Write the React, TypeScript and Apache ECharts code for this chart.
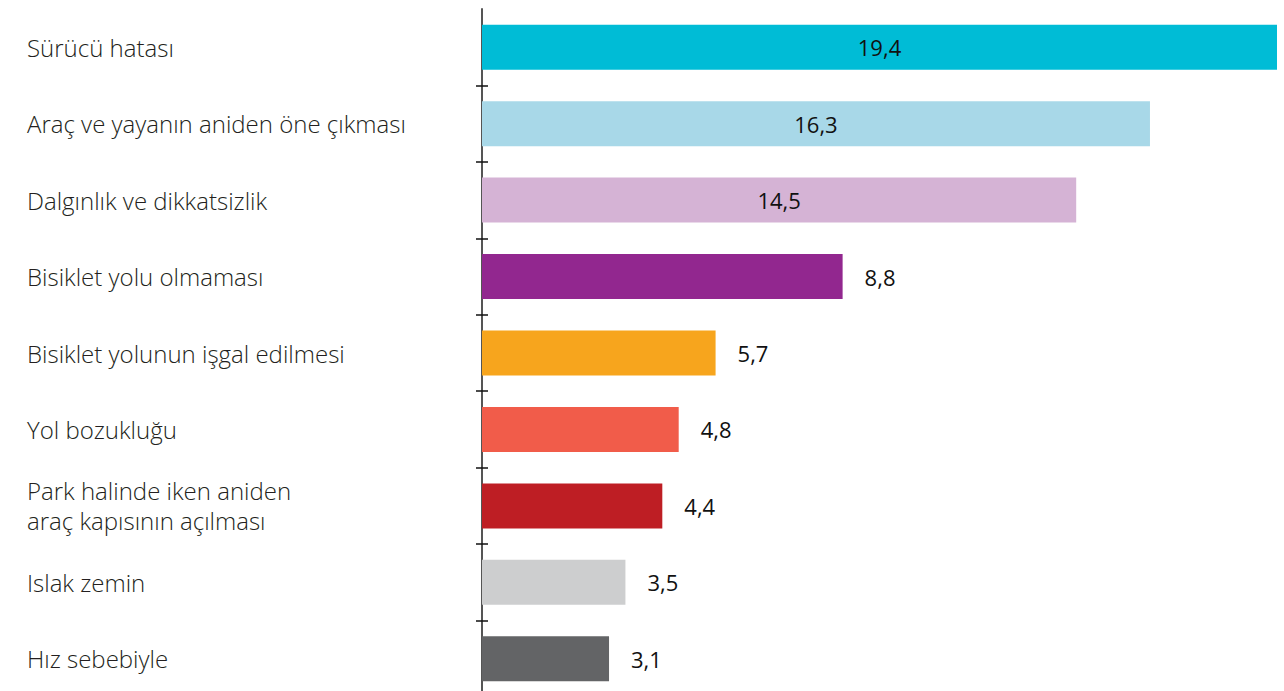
import React, { useEffect, useRef } from "react";
import * as echarts from "echarts";

const categories = [
  "Sürücü hatası",
  "Araç ve yayanın aniden öne çıkması",
  "Dalgınlık ve dikkatsizlik",
  "Bisiklet yolu olmaması",
  "Bisiklet yolunun işgal edilmesi",
  "Yol bozukluğu",
  "Park halinde iken aniden\naraç kapısının açılması",
  "Islak zemin",
  "Hız sebebiyle",
];
const values = [19.4, 16.3, 14.5, 8.8, 5.7, 4.8, 4.4, 3.5, 3.1];
const colors = [
  "#00bcd6",
  "#a8d8e8",
  "#d5b3d5",
  "#92278f",
  "#f7a51d",
  "#f15c4a",
  "#be1e24",
  "#cdcecf",
  "#636466",
];
const insideCount = 3;

export default function App() {
  const ref = useRef<HTMLDivElement>(null);
  useEffect(() => {
    document.body.style.margin = "0";
    document.body.style.overflow = "hidden";
    const chart = echarts.init(ref.current!, null, { renderer: "svg" });
    const font = "'Open Sans', 'Noto Sans', sans-serif";
    chart.setOption({
      animation: false,
      grid: { left: 482, right: 7, top: 9, height: 688, containLabel: false },
      xAxis: { type: "value", min: 0, max: 19.4, show: false },
      yAxis: [
        {
          type: "category",
          data: categories,
          inverse: true,
          axisLine: { show: true, lineStyle: { color: "#555", width: 2 } },
          axisTick: {
            show: true,
            length: 6,
            interval: (i: number) => i !== 0,
            lineStyle: { color: "#111", width: 1.5 },
          },
          axisLabel: {
            align: "left",
            margin: 455,
            fontSize: 24,
            fontWeight: 300,
            fontFamily: font,
            color: "#231f20",
            lineHeight: 30,
          },
        },
        {
          type: "category",
          data: categories,
          inverse: true,
          position: "left",
          axisLine: { show: false },
          axisTick: {
            show: true,
            inside: true,
            length: 6,
            interval: (i: number) => i !== 0,
            lineStyle: { color: "#111", width: 1.5 },
          },
          axisLabel: { show: false },
        },
      ],
      series: [
        {
          type: "bar",
          barWidth: 45,
          data: values.map((v, i) => ({
            value: v,
            itemStyle: { color: colors[i] },
            label: {
              show: true,
              position: i < insideCount ? "inside" : "right",
              distance: 22,
              formatter: (p: any) => String(p.value).replace(".", ","),
              fontSize: 22,
              fontWeight: 400,
              fontFamily: font,
              color: "#111",
            },
          })),
        },
      ],
    });
    return () => chart.dispose();
  }, []);
  return <div ref={ref} style={{ width: 1284, height: 700 }} />;
}
